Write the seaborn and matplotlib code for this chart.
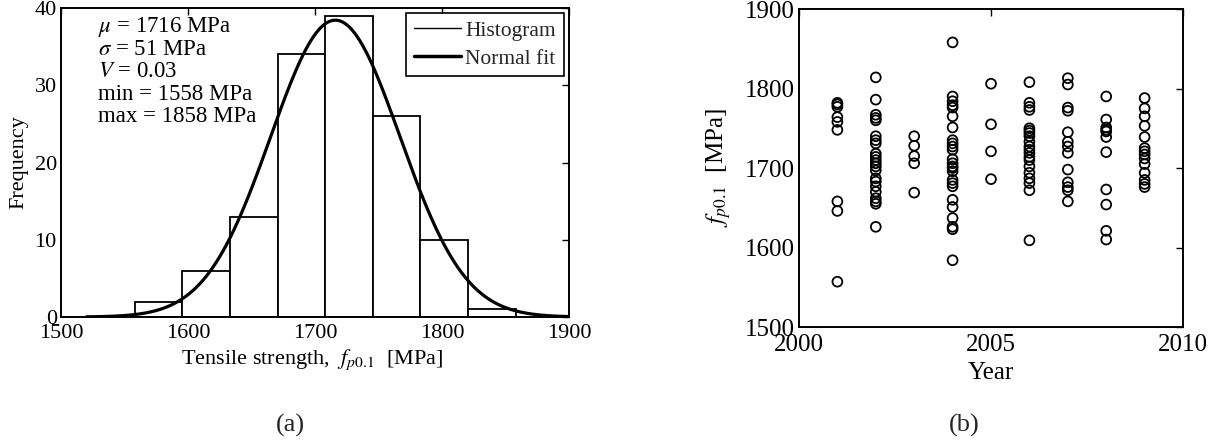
import numpy as np
import pandas as pd
import matplotlib
matplotlib.use("Agg")
import matplotlib.pyplot as plt
from matplotlib.lines import Line2D
import seaborn as sns

# (a) histogram of tensile strength, 8 bins between min and max
bin_edges = [1558, 1595.5, 1633, 1670.5, 1708, 1745.5, 1783, 1820.5, 1858]
bin_counts = [2, 6, 13, 34, 39, 26, 10, 1]
mu = 1716
sigma = 51
stats_lines = [r"$\mu$ = 1716 MPa", r"$\sigma$ = 51 MPa", r"$V$ = 0.03",
               "min = 1558 MPa", "max = 1858 MPa"]

# (b) tensile strength per production year
strength_by_year = {
    2001: [1782, 1780, 1777, 1764, 1758, 1748, 1658, 1646, 1557],
    2002: [1814, 1786, 1767, 1763, 1760, 1740, 1735, 1731, 1718, 1714, 1710,
           1706, 1702, 1697, 1687, 1683, 1677, 1670, 1662, 1658, 1655, 1626],
    2003: [1740, 1728, 1715, 1706, 1669],
    2004: [1858, 1790, 1784, 1779, 1776, 1765, 1751, 1735, 1731, 1727, 1723,
           1711, 1706, 1702, 1700, 1696, 1685, 1681, 1677, 1660, 1651, 1637,
           1626, 1623, 1584],
    2005: [1806, 1755, 1721, 1686],
    2006: [1808, 1782, 1777, 1773, 1750, 1747, 1744, 1740, 1733, 1727, 1723,
           1719, 1714, 1710, 1702, 1694, 1687, 1681, 1672, 1609],
    2007: [1813, 1805, 1776, 1772, 1745, 1733, 1727, 1719, 1698, 1682, 1676,
           1672, 1658],
    2008: [1790, 1761, 1751, 1748, 1746, 1739, 1720, 1673, 1654, 1621, 1610],
    2009: [1788, 1775, 1765, 1753, 1739, 1725, 1721, 1717, 1712, 1705, 1694,
           1685, 1680, 1676],
}

sns.set_theme(style="white")
plt.rcParams["font.family"] = ["Liberation Serif", "DejaVu Serif"]
plt.rcParams["mathtext.fontset"] = "stix"
plt.rcParams["axes.edgecolor"] = "black"
plt.rcParams["axes.linewidth"] = 1.4

fig = plt.figure(figsize=(12.2, 4.46), dpi=100)
ax1 = fig.add_axes([0.05, 0.2892, 0.4164, 0.6928])
ax2 = fig.add_axes([0.6549, 0.2668, 0.3148, 0.7130])

# ---- (a) histogram + normal fit
centers = [(a + b) / 2 for a, b in zip(bin_edges[:-1], bin_edges[1:])]
sns.histplot(x=centers, weights=bin_counts, bins=bin_edges, ax=ax1,
             color="white", edgecolor="black", linewidth=1.3, alpha=1)
width = bin_edges[1] - bin_edges[0]
n_total = sum(bin_counts)
xfit = np.linspace(1520, 1912, 300)
yfit = n_total * width / (sigma * np.sqrt(2 * np.pi)) * np.exp(-0.5 * ((xfit - mu) / sigma) ** 2)
sns.lineplot(x=xfit, y=yfit, ax=ax1, color="black", linewidth=2.3)

ax1.set_xlim(1500, 1900)
ax1.set_ylim(0, 40)
ax1.set_xticks([1500, 1600, 1700, 1800, 1900])
ax1.set_yticks([0, 10, 20, 30, 40])
ax1.tick_params(direction="in", length=5, width=1, top=True, right=True,
                labelsize=16, colors="black", pad=5)
ax1.tick_params(axis="y", pad=3)
ax1.set_xlabel(r"Tensile strength,  $f_{\mathit{p0.1}}$  [MPa]", fontsize=16, color="black")
ax1.set_ylabel("Frequency", fontsize=16, color="black")
ax1.xaxis.set_label_coords(0.494, -0.10)
ax1.yaxis.set_label_coords(-0.064, 0.5)

ys = [0.939, 0.866, 0.794, 0.720, 0.648]
for line, yy in zip(stats_lines, ys):
    ax1.text(0.073, yy, line, transform=ax1.transAxes, fontsize=16.5,
             va="center", ha="left", color="black")

handles = [Line2D([], [], color="black", linewidth=1.0),
           Line2D([], [], color="black", linewidth=2.5)]
leg = ax1.legend(handles, ["Histogram", "Normal fit"], loc="upper right",
                 fontsize=15.5, frameon=True, fancybox=False, framealpha=1,
                 edgecolor="black", handlelength=2.2, handletextpad=0.2,
                 borderpad=0.35, labelspacing=0.35, borderaxespad=0.25)
leg.get_frame().set_linewidth(1.2)

# ---- (b) scatter per year
df = pd.DataFrame([(yr, v) for yr, vals in strength_by_year.items() for v in vals],
                  columns=["Year", "Strength"])
sns.scatterplot(data=df, x="Year", y="Strength", ax=ax2, marker="o", s=50,
                facecolors="none", edgecolor="black", linewidth=1.3)
ax2.set_xlim(2000, 2010)
ax2.set_ylim(1500, 1900)
ax2.set_xticks([2000, 2005, 2010])
ax2.set_yticks([1500, 1600, 1700, 1800, 1900])
ax2.tick_params(direction="in", length=5, width=1, top=True, right=True,
                labelsize=18, colors="black", pad=5)
ax2.tick_params(axis="y", pad=3)
ax2.set_xlabel("Year", fontsize=18, color="black")
ax2.set_ylabel(r"$f_{\mathit{p0.1}}$  [MPa]", fontsize=18, color="black")
ax2.xaxis.set_label_coords(0.5, -0.11)
ax2.yaxis.set_label_coords(-0.172, 0.5)

fig.text(290 / 1220, 1 - 425 / 446, "(a)", fontsize=19, ha="center", va="center")
fig.text(964 / 1220, 1 - 425 / 446, "(b)", fontsize=19, ha="center", va="center")

fig.savefig("out.png", dpi=100, facecolor="white")
